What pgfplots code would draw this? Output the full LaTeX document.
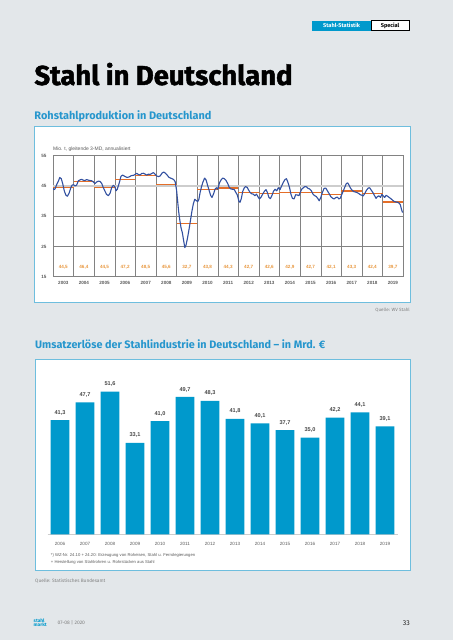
\documentclass[border=0pt]{standalone}
\usepackage{pgfplots}
\pgfplotsset{compat=1.18}
\usepackage{pgfplotstable}
\usepackage{fontspec}
\setmainfont{Fira Sans}
\newfontfamily\titlefont[BoldFeatures={FakeBold=1.6}]{Fira Sans}
\newfontfamily\arial{Liberation Sans}
\definecolor{pagebg}{RGB}{227,231,234}
\definecolor{boxborder}{RGB}{110,190,222}
\definecolor{titleblue}{RGB}{38,150,205}
\definecolor{barblue}{RGB}{0,153,204}
\definecolor{lineblue}{RGB}{50,80,160}
\definecolor{avgorange}{RGB}{228,110,40}
\definecolor{laborange}{RGB}{232,150,60}
\definecolor{gridgray}{RGB}{130,130,130}
\definecolor{lightgrid}{RGB}{205,205,205}
\definecolor{txtgray}{RGB}{90,90,90}

\pgfplotstableread{
year avg
2003 44.5
2004 46.4
2005 44.5
2006 47.2
2007 48.5
2008 45.6
2009 32.7
2010 43.8
2011 44.3
2012 42.7
2013 42.6
2014 42.9
2015 42.7
2016 42.1
2017 43.3
2018 42.4
2019 39.7
}\annual

\pgfplotstableread{
t v
2003.00 44.2
2003.05 43.8
2003.10 44.0
2003.18 45.5
2003.26 46.6
2003.33 47.8
2003.40 47.4
2003.47 45.8
2003.55 43.3
2003.63 41.9
2003.70 41.6
2003.78 42.6
2003.86 44.3
2003.93 45.3
2004.00 45.4
2004.07 45.0
2004.15 45.3
2004.23 46.7
2004.31 47.0
2004.39 47.2
2004.47 46.9
2004.55 46.8
2004.63 47.1
2004.72 46.9
2004.80 46.8
2004.88 46.7
2004.96 46.3
2005.04 45.8
2005.12 46.3
2005.20 46.6
2005.28 46.5
2005.36 45.9
2005.44 44.5
2005.52 43.3
2005.60 42.2
2005.69 41.8
2005.77 42.6
2005.85 44.5
2005.93 45.2
2006.00 44.8
2006.06 43.4
2006.12 43.9
2006.22 46.1
2006.30 48.2
2006.38 48.6
2006.50 48.1
2006.60 47.8
2006.70 48.0
2006.80 48.4
2006.90 48.5
2006.99 48.8
2007.06 49.2
2007.14 48.8
2007.22 48.6
2007.30 49.1
2007.39 49.2
2007.47 48.9
2007.55 48.6
2007.63 48.9
2007.71 48.8
2007.79 49.1
2007.87 49.4
2007.94 49.0
2008.03 48.3
2008.12 48.1
2008.20 48.3
2008.30 49.3
2008.38 49.6
2008.46 49.2
2008.54 48.6
2008.62 47.9
2008.70 47.6
2008.78 47.4
2008.86 47.1
2008.93 46.4
2009.00 43.5
2009.05 40.0
2009.10 36.5
2009.16 33.5
2009.22 31.0
2009.28 29.5
2009.34 27.0
2009.40 24.6
2009.46 25.5
2009.53 27.8
2009.60 30.5
2009.67 33.5
2009.74 36.5
2009.81 39.0
2009.88 40.6
2009.95 40.2
2010.02 39.8
2010.08 40.5
2010.14 42.8
2010.21 44.8
2010.28 46.3
2010.36 47.6
2010.43 47.0
2010.50 45.3
2010.58 43.5
2010.65 41.9
2010.72 41.2
2010.80 42.5
2010.87 44.0
2010.94 44.4
2011.00 43.9
2011.08 46.0
2011.16 47.0
2011.24 47.6
2011.32 47.4
2011.40 46.8
2011.48 45.8
2011.56 44.5
2011.64 44.0
2011.72 43.9
2011.80 43.8
2011.88 42.8
2011.95 42.0
2012.02 40.0
2012.08 39.6
2012.14 40.8
2012.21 43.2
2012.28 44.3
2012.35 44.8
2012.43 44.5
2012.50 43.6
2012.57 42.8
2012.65 42.4
2012.72 42.3
2012.80 41.8
2012.88 42.3
2012.95 41.4
2013.02 40.7
2013.10 41.3
2013.18 42.3
2013.26 43.2
2013.34 43.8
2013.41 42.8
2013.48 41.2
2013.55 40.8
2013.62 41.7
2013.70 43.2
2013.78 43.9
2013.86 43.4
2013.94 44.4
2014.02 43.8
2014.10 45.0
2014.18 46.2
2014.26 47.1
2014.33 47.4
2014.40 46.3
2014.48 44.5
2014.55 42.3
2014.62 40.9
2014.70 40.7
2014.78 42.1
2014.86 42.0
2014.94 41.8
2015.00 42.8
2015.07 43.9
2015.15 44.4
2015.23 44.8
2015.31 44.7
2015.38 44.2
2015.46 44.0
2015.54 43.4
2015.62 42.3
2015.70 41.8
2015.78 41.5
2015.86 40.8
2015.92 40.1
2016.00 41.2
2016.08 42.9
2016.16 44.2
2016.24 44.3
2016.32 43.4
2016.40 42.5
2016.48 41.5
2016.56 41.0
2016.64 40.7
2016.72 41.1
2016.80 41.3
2016.88 40.7
2016.95 41.0
2017.02 42.2
2017.10 43.5
2017.17 44.7
2017.24 45.8
2017.31 46.0
2017.38 45.1
2017.45 44.2
2017.52 43.6
2017.60 43.1
2017.68 43.0
2017.76 42.8
2017.84 42.5
2017.92 42.1
2018.00 41.9
2018.06 41.7
2018.14 42.6
2018.22 43.6
2018.30 44.3
2018.37 44.4
2018.45 43.6
2018.53 42.8
2018.60 41.9
2018.68 40.9
2018.75 41.5
2018.82 41.7
2018.90 41.2
2018.96 42.2
2019.03 41.7
2019.10 41.2
2019.17 41.9
2019.24 41.6
2019.32 41.2
2019.40 40.8
2019.48 40.3
2019.56 39.9
2019.64 39.7
2019.72 39.6
2019.80 39.3
2019.86 38.8
2019.92 37.2
2019.97 36.2
}\monthly

\pgfplotstableread{
i val
0 41.3
1 47.7
2 51.6
3 33.1
4 41.0
5 49.7
6 48.3
7 41.8
8 40.1
9 37.7
10 35.0
11 42.2
12 44.1
13 39.1
}\umsatz

\begin{document}
\begin{tikzpicture}
\begin{scope}[x=1bp,y=1bp]
\useasboundingbox (0,0) rectangle (453,640);
\fill[pagebg] (0,0) rectangle (453,640);

% header tag
\fill[barblue] (312.3,609.3) rectangle (371,619.3);
\node[text=white,font=\bfseries\fontsize{5.6}{6}\selectfont] at (341.6,614.3) {Stahl-Statistik};
\filldraw[fill=white,draw=black,line width=0.5bp] (371,609.3) rectangle (409.3,619.3);
\node[text=black,font=\bfseries\fontsize{5.6}{6}\selectfont] at (390.1,614.3) {Special};

% page title
\node[anchor=base west,inner sep=0pt] at (34.3,555) {\resizebox{258bp}{!}{\titlefont\bfseries\fontsize{25.7}{26}\selectfont Stahl in Deutschland}};

% top chart frame
\node[anchor=base west,inner sep=0pt,text=titleblue] at (34.3,520.5) {\resizebox{177bp}{!}{\bfseries\fontsize{9}{10}\selectfont Rohstahlproduktion in Deutschland}};
\filldraw[fill=white,draw=boxborder,line width=0.9bp] (34,337.3) rectangle (410,514);
\node[anchor=base west,inner sep=0pt,text=txtgray,font=\arial\fontsize{5}{6}\selectfont] at (53,489.5) {Mio. t, gleitende 3-MD, annualisiert};
\node[anchor=base east,inner sep=0pt,text=gray,font=\fontsize{4.6}{5}\selectfont] at (410,328.5) {Quelle: WV Stahl};

% bottom chart frame
\node[anchor=base west,inner sep=0pt,text=titleblue] at (35,291) {\resizebox{290bp}{!}{\bfseries\fontsize{9}{10}\selectfont Umsatzerlöse der Stahlindustrie in Deutschland – in Mrd. €}};
\filldraw[fill=white,draw=boxborder,line width=0.9bp] (35,70) rectangle (410,281);
\node[anchor=west,inner sep=0pt,text=txtgray,font=\arial\fontsize{4.2}{5}\selectfont] at (50.7,84.3) {*) WZ-Nr. 24.10 + 24.20: Erzeugung von Roheisen, Stahl u. Ferrolegierungen};
\node[anchor=west,inner sep=0pt,text=txtgray,font=\arial\fontsize{4.2}{5}\selectfont] at (50.7,77.3) {+ Herstellung von Stahlrohren u. Rohrstücken aus Stahl};
\node[anchor=west,inner sep=0pt,text=gray,font=\fontsize{4.8}{5}\selectfont] at (35,59) {Quelle: Statistisches Bundesamt};

% footer
\node[anchor=west,inner sep=0pt,text=barblue,font=\bfseries\fontsize{4.8}{4.2}\selectfont,align=left] at (33.5,17) {stahl\\markt};
\node[anchor=west,inner sep=0pt,text=gray,font=\fontsize{5}{6}\selectfont] at (57.5,17) {07-08 | 2020};
\node[anchor=east,inner sep=0pt,text=black!85,font=\fontsize{7}{8}\selectfont] at (410,17) {33};
\end{scope}

\begin{axis}[
  at={(53bp,363.3bp)}, anchor=south west, scale only axis,
  width=350.2bp, height=121bp,
  xmin=2003, xmax=2020, ymin=15, ymax=55,
  axis line style={draw=gridgray,line width=0.6bp},
  xtick={2003.5,2004.5,2005.5,2006.5,2007.5,2008.5,2009.5,2010.5,2011.5,2012.5,2013.5,2014.5,2015.5,2016.5,2017.5,2018.5,2019.5},
  xticklabels={2003,2004,2005,2006,2007,2008,2009,2010,2011,2012,2013,2014,2015,2016,2017,2018,2019},
  extra x ticks={2004,2005,2006,2007,2008,2009,2010,2011,2012,2013,2014,2015,2016,2017,2018,2019},
  extra x tick labels={},
  extra x tick style={grid=major, major grid style={draw=gridgray,line width=0.6bp}},
  ytick={15,25,35,55},
  ymajorgrids, major grid style={draw=gridgray,line width=0.6bp},
  extra y ticks={45},
  extra y tick style={grid=major, major grid style={draw=lightgrid,line width=1.6bp}},
  major tick length=0pt,
  /pgf/number format/assume math mode=true,
  tick label style={font=\arial\bfseries\fontsize{4.6}{5}\selectfont, text=txtgray},
  xticklabel style={yshift=-1bp},
  yticklabel style={xshift=-3bp},
]
\addplot[draw=none, mark=none, forget plot,
  error bars/.cd, x dir=both, x fixed=0.5, error mark=none,
  error bar style={draw=avgorange,line width=1.2bp}]
  table[x expr=\thisrow{year}+0.5, y=avg] {\annual};
\addplot[draw=lineblue, line width=1.1bp, mark=none, line join=round] table[x=t,y=v] {\monthly};
\addplot[draw=none, mark=none,
  nodes near coords, point meta=\thisrow{avg},
  every node near coord/.append style={anchor=center, text=laborange,
    font=\arial\bfseries\fontsize{4.6}{5}\selectfont},
  /pgf/number format/.cd, use comma, fixed, fixed zerofill, precision=1, assume math mode=true]
  table[x expr=\thisrow{year}+0.5, y expr=18.1] {\annual};
\end{axis}

\begin{axis}[
  at={(47.5bp,105.7bp)}, anchor=south west, scale only axis,
  width=350bp, height=165.8bp,
  xmin=-0.5, xmax=13.5, ymin=0, ymax=60,
  axis x line*=bottom, axis y line=none,
  x axis line style={-, draw=lightgrid, line width=0.8bp},
  xtick={0,1,2,3,4,5,6,7,8,9,10,11,12,13},
  xticklabels={2006,2007,2008,2009,2010,2011,2012,2013,2014,2015,2016,2017,2018,2019},
  major tick length=0pt,
  xticklabel style={font=\arial\fontsize{4.6}{5}\selectfont, text=txtgray, yshift=-4.5bp},
  /pgf/number format/assume math mode=true,
]
\addplot[ybar, bar width=18.7bp, fill=barblue, draw=none,
  nodes near coords,
  every node near coord/.append style={text=txtgray!80!black, yshift=1.5bp,
    font=\arial\bfseries\fontsize{5.6}{6}\selectfont},
  /pgf/number format/.cd, use comma, fixed, fixed zerofill, precision=1, assume math mode=true]
  table[x=i, y=val] {\umsatz};
\end{axis}
\end{tikzpicture}
\end{document}
